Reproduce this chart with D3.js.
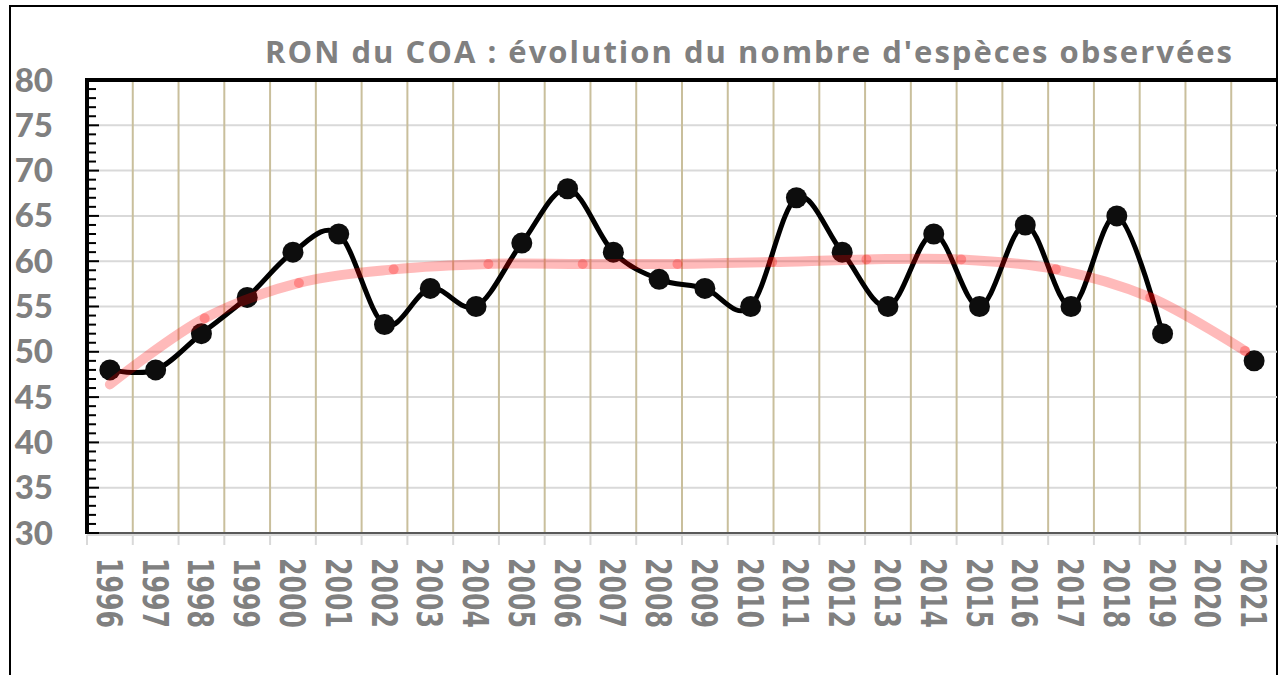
<!DOCTYPE html>
<html>
<head>
<meta charset="utf-8">
<script src="https://cdn.jsdelivr.net/npm/d3@7"></script>
<style>
  body { margin: 0; background: #fff; }
</style>
</head>
<body>
<div id="chart"></div>
<script>
// nombre d'espèces observées par année (2020 : pas de donnée)
var years = [1996, 1997, 1998, 1999, 2000, 2001, 2002, 2003, 2004, 2005, 2006, 2007, 2008,
             2009, 2010, 2011, 2012, 2013, 2014, 2015, 2016, 2017, 2018, 2019, 2020, 2021];
var especes = [48, 48, 52, 56, 61, 63, 53, 57, 55, 62, 68, 61, 58,
               57, 55, 67, 61, 55, 63, 55, 64, 55, 65, 52, null, 49];

// courbe de tendance (rose)
var trendYears = [1996, 1998.07, 2000.13, 2002.2, 2004.27, 2006.33, 2008.4,
                  2010.47, 2012.53, 2014.6, 2016.67, 2018.73, 2020.8];
var trendValues = [46.4, 53.7, 57.6, 59.1, 59.7, 59.7, 59.7,
                   59.9, 60.2, 60.2, 59.1, 56.0, 50.1];

var yTicks = [30, 35, 40, 45, 50, 55, 60, 65, 70, 75, 80];
var titre = "RON du COA : évolution du nombre d'espèces observées";

var W = 1280, H = 675;
var pLeft = 87, pRight = 1277, pTop = 80, pBottom = 533;

var svg = d3.select("#chart").append("svg").attr("width", W).attr("height", H);

// cadre
svg.append("rect")
    .attr("x", 10).attr("y", 6)
    .attr("width", pRight - 10).attr("height", 720)
    .style("fill", "none").style("stroke", "#000").style("stroke-width", 2);

var x = d3.scaleBand().domain(years.map(String)).range([pLeft, pRight]).padding(0);
var xl = d3.scaleLinear().domain([1995.5, 2021.5]).range([pLeft, pRight]);
var y = d3.scaleLinear().domain([30, 80]).range([pBottom, pTop]);

// grille horizontale
svg.append("g").selectAll("line")
    .data(yTicks.filter(function(d){ return d > 30 && d < 80; }))
    .enter().append("line")
    .attr("x1", pLeft).attr("x2", pRight)
    .attr("y1", function(d){ return y(d); }).attr("y2", function(d){ return y(d); })
    .style("stroke", "#d9d9d9").style("stroke-width", 2);

// grille verticale
var bounds = years.slice(1).map(function(d){ return x(String(d)); });
svg.append("g").selectAll("line")
    .data(bounds)
    .enter().append("line")
    .attr("x1", function(d){ return d; }).attr("x2", function(d){ return d; })
    .attr("y1", pTop).attr("y2", pBottom)
    .style("stroke", "#c9bf9c").style("stroke-width", 2);

// axe x
svg.append("line")
    .attr("x1", pLeft).attr("x2", pRight)
    .attr("y1", pBottom + 2).attr("y2", pBottom + 2)
    .style("stroke", "#d9d9d9").style("stroke-width", 2);
svg.append("line")
    .attr("x1", pLeft).attr("x2", pRight)
    .attr("y1", pBottom).attr("y2", pBottom)
    .style("stroke", "#595959").style("stroke-width", 2);
svg.append("g").selectAll("line")
    .data(years.map(function(d){ return x(String(d)); }).concat([pRight]))
    .enter().append("line")
    .attr("x1", function(d){ return d; }).attr("x2", function(d){ return d; })
    .attr("y1", pBottom + 2).attr("y2", pBottom + 12)
    .style("stroke", "#d9d9d9").style("stroke-width", 2);

svg.append("g").selectAll("text")
    .data(years)
    .enter().append("text")
    .attr("transform", function(d){
        return "translate(" + (x(String(d)) + x.bandwidth() / 2) + "," + (pBottom + 25) + ") rotate(90) scale(0.7,1)";
    })
    .attr("dy", "0.36em")
    .style("font-family", "'DejaVu Sans', sans-serif")
    .style("font-weight", "bold")
    .style("font-size", "36px")
    .style("fill", "#808080")
    .text(function(d){ return d; });

// axe y : traits + graduations
var minor = d3.range(30, 81);
svg.append("g").selectAll("line")
    .data(minor)
    .enter().append("line")
    .attr("x1", pLeft).attr("x2", function(d){ return d % 5 === 0 ? pLeft + 12 : pLeft + 9; })
    .attr("y1", function(d){ return y(d); }).attr("y2", function(d){ return y(d); })
    .style("stroke", "#000").style("stroke-width", 2);

svg.append("line")
    .attr("x1", pLeft).attr("x2", pLeft)
    .attr("y1", pTop - 2).attr("y2", pBottom + 1)
    .style("stroke", "#000").style("stroke-width", 4);
svg.append("line")
    .attr("x1", pLeft - 2).attr("x2", pRight)
    .attr("y1", pTop).attr("y2", pTop)
    .style("stroke", "#000").style("stroke-width", 4);

svg.append("g").selectAll("text")
    .data(yTicks)
    .enter().append("text")
    .attr("x", 53)
    .attr("y", function(d){ return y(d); })
    .attr("dy", "0.35em")
    .attr("text-anchor", "end")
    .style("font-family", "Lato, sans-serif")
    .style("font-weight", "900")
    .style("font-size", "33px")
    .style("fill", "#808080")
    .text(function(d){ return d; });

// titre
svg.append("text")
    .attr("x", 265).attr("y", 63)
    .attr("textLength", 967)
    .attr("lengthAdjust", "spacing")
    .style("font-family", "'Open Sans', sans-serif")
    .style("font-weight", "bold")
    .style("font-size", "31px")
    .style("fill", "#808080")
    .text(titre);

// série principale
var pts = years.map(function(d, i){ return {yr: d, v: especes[i]}; });
var line = d3.line()
    .defined(function(d){ return d.v != null; })
    .x(function(d){ return xl(d.yr); })
    .y(function(d){ return y(d.v); })
    .curve(d3.curveCardinal.tension(0));

svg.append("path")
    .datum(pts)
    .attr("d", line)
    .style("fill", "none").style("stroke", "#000").style("stroke-width", 5);

svg.append("g").selectAll("circle")
    .data(pts.filter(function(d){ return d.v != null; }))
    .enter().append("circle")
    .attr("cx", function(d){ return xl(d.yr); })
    .attr("cy", function(d){ return y(d.v); })
    .attr("r", 10.5)
    .style("fill", "#0d0d0d");

// tendance
var tpts = trendYears.map(function(d, i){ return {yr: d, v: trendValues[i]}; });
var tline = d3.line()
    .x(function(d){ return xl(d.yr); })
    .y(function(d){ return y(d.v); })
    .curve(d3.curveCatmullRom.alpha(0.5));

svg.append("path")
    .datum(tpts)
    .attr("d", tline)
    .style("fill", "none").style("stroke", "#ff0000").style("stroke-opacity", 0.27)
    .style("stroke-width", 10).style("stroke-linecap", "round");

svg.append("g").selectAll("circle")
    .data(tpts.slice(1))
    .enter().append("circle")
    .attr("cx", function(d){ return xl(d.yr); })
    .attr("cy", function(d){ return y(d.v); })
    .attr("r", 5)
    .style("fill", "#ff0000").style("fill-opacity", 0.27);
</script>
</body>
</html>
